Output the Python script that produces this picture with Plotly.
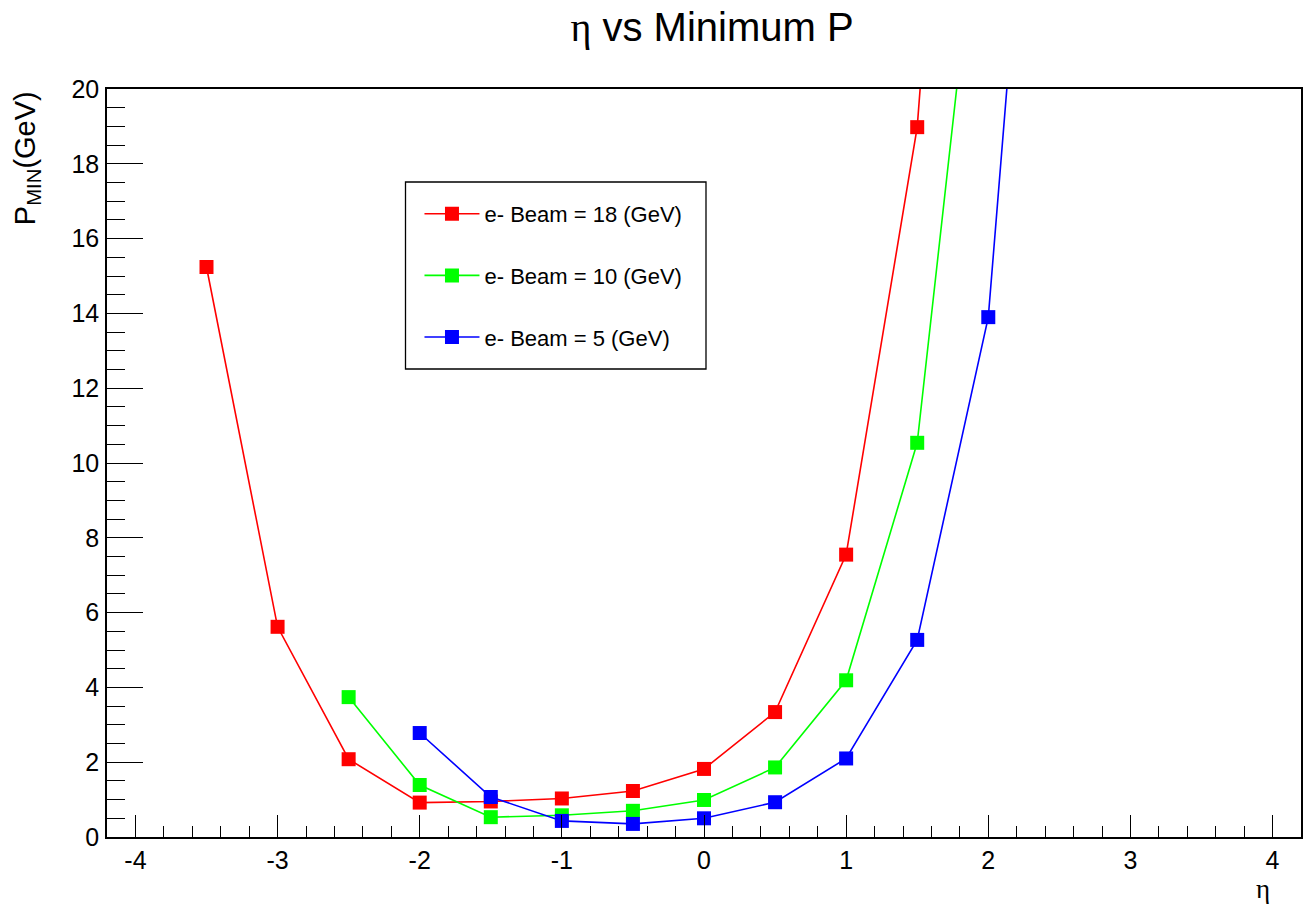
import plotly.graph_objects as go

# Data
eta_18 = [-3.5, -3.0, -2.5, -2.0, -1.5, -1.0, -0.5, 0.0, 0.5, 1.0, 1.5, 2.0]
p_18 = [15.24, 5.62, 2.08, 0.92, 0.95, 1.03, 1.23, 1.82, 3.34, 7.55, 18.98, 44.0]

eta_10 = [-2.5, -2.0, -1.5, -1.0, -0.5, 0.0, 0.5, 1.0, 1.5, 2.0]
p_10 = [3.74, 1.39, 0.53, 0.58, 0.70, 0.99, 1.86, 4.19, 10.54, 27.6]

eta_5 = [-2.0, -1.5, -1.0, -0.5, 0.0, 0.5, 1.0, 1.5, 2.0, 2.5]
p_5 = [2.78, 1.07, 0.43, 0.35, 0.50, 0.93, 2.10, 5.27, 13.90, 37.3]

names = ["e- Beam = 18 (GeV)", "e- Beam = 10 (GeV)", "e- Beam = 5 (GeV)"]
colors = ["#ff0000", "#00ff00", "#0000ff"]

x_tickvals = [-4, -3, -2, -1, 0, 1, 2, 3, 4]
x_ticktext = ["-4", "-3", "-2", "-1", "0", "1", "2", "3", "4"]

W, H = 1307, 909
ML, MR, MT, MB = 107, 4, 89, 72
PW, PH = W - ML - MR, H - MT - MB

def px_x(px):
    return (px - ML) / PW

def px_y(py):
    return (H - MB - py) / PH

fig = go.Figure()
for i, (xs, ys) in enumerate([(eta_18, p_18), (eta_10, p_10), (eta_5, p_5)]):
    fig.add_trace(go.Scatter(
        x=xs, y=ys, mode="lines+markers", name=names[i],
        legendgroup=f"g{i}",
        line=dict(color=colors[i], width=1.6),
        marker=dict(symbol="square", size=14, color=colors[i]),
        cliponaxis=True,
    ))

font_main = "Liberation Sans, Arial, Helvetica, sans-serif"

fig.update_layout(
    width=W, height=H,
    margin=dict(l=ML, r=MR, t=MT, b=MB),
    paper_bgcolor="white", plot_bgcolor="white",
    font=dict(family=font_main, color="black", size=25),
    title=dict(
        text="<span style='font-family:Liberation Serif'>η</span> vs Minimum P",
        x=712 / W, xanchor="center",
        y=1 - 27 / H, yanchor="middle",
        font=dict(size=40, family=font_main, color="black"),
    ),
    showlegend=True,
    legend=dict(
        x=px_x(420), y=px_y(193), xanchor="left", yanchor="top",
        bgcolor="rgba(0,0,0,0)", borderwidth=0,
        font=dict(size=22, family=font_main, color="black"),
        tracegroupgap=30, itemwidth=55,
    ),
    shapes=[dict(
        type="rect", xref="paper", yref="paper",
        x0=px_x(406), x1=px_x(707), y0=px_y(369), y1=px_y(182),
        line=dict(color="black", width=1.3), fillcolor="white", layer="below",
    )],
    annotations=[
        dict(text="P<sub>MIN</sub>(GeV)", xref="paper", yref="paper",
             x=px_x(27), y=1.0, xanchor="center", yanchor="top",
             textangle=-90, showarrow=False,
             font=dict(size=29, family=font_main, color="black")),
        dict(text="η", xref="paper", yref="paper",
             x=px_x(1265), y=px_y(889), xanchor="center", yanchor="middle",
             showarrow=False,
             font=dict(size=27, family="Liberation Serif, serif", color="black")),
    ],
)

fig.update_xaxes(
    range=[-4.2, 4.2], tickmode="array", tickvals=x_tickvals, ticktext=x_ticktext,
    showgrid=False, zeroline=False,
    showline=True, linecolor="black", linewidth=1.5, mirror=True,
    ticks="inside", ticklen=22, tickwidth=1.3, tickcolor="black",
    minor=dict(dtick=0.2, tick0=0, ticks="inside", ticklen=11, tickwidth=1.3, tickcolor="black", showgrid=False),
    tickfont=dict(size=25, family=font_main, color="black"),
)
fig.update_yaxes(
    range=[0, 20], dtick=2, tick0=0,
    showgrid=False, zeroline=False,
    showline=True, linecolor="black", linewidth=1.5, mirror=True,
    ticks="inside", ticklen=36, tickwidth=1.3, tickcolor="black",
    minor=dict(dtick=0.5, tick0=0, ticks="inside", ticklen=18, tickwidth=1.3, tickcolor="black", showgrid=False),
    tickfont=dict(size=25, family=font_main, color="black"),
    ticklabelstandoff=1,
)

fig.write_html("out.html", config={"displayModeBar": False},
               post_script="document.body.style.margin='0';")
